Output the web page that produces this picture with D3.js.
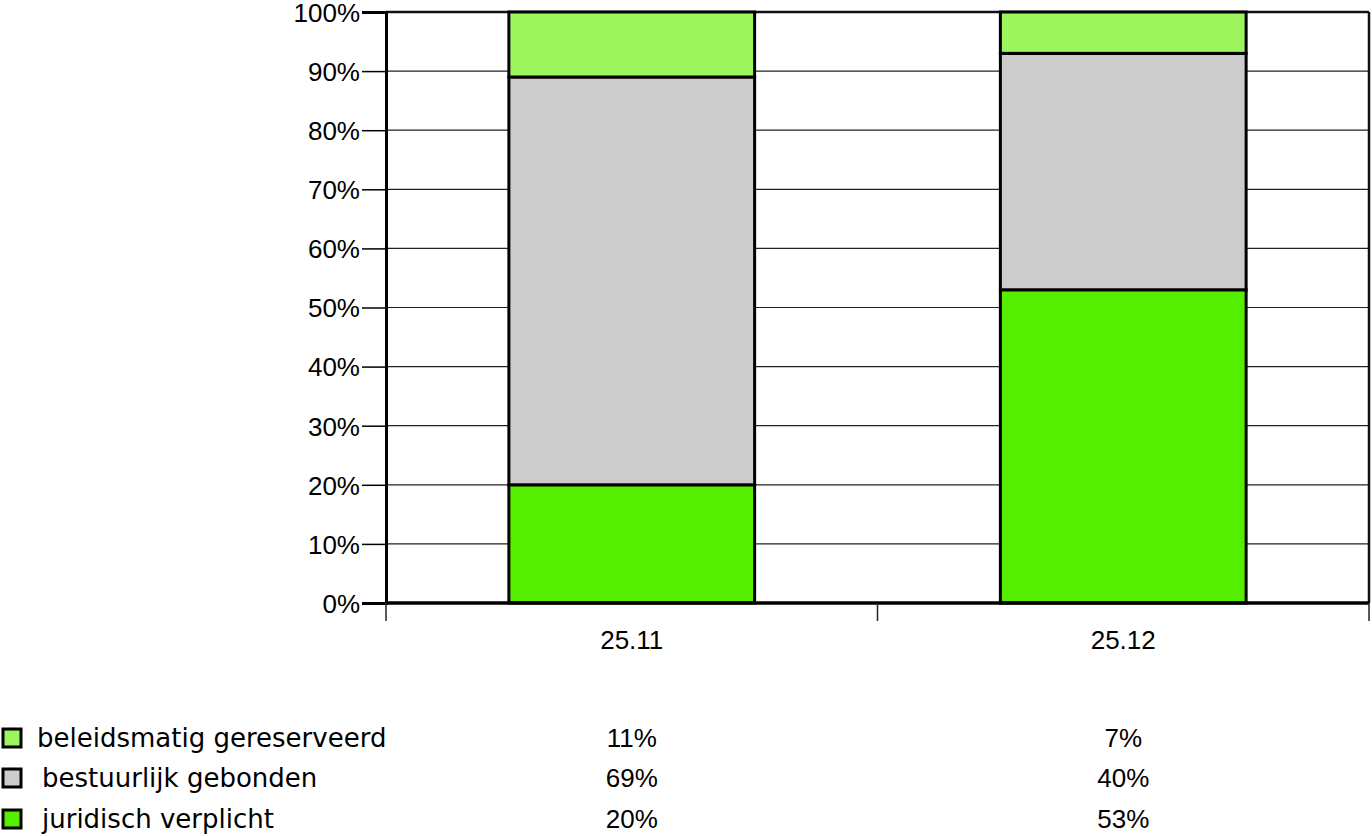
<!DOCTYPE html>
<html><head><meta charset="utf-8">
<script src="https://cdn.jsdelivr.net/npm/d3@7"></script>
<style>body{margin:0;background:#fff;}svg{display:block;font-family:"Liberation Sans",Arial,sans-serif;}</style>
</head><body><svg id="c" width="1372" height="836"></svg>
<script>
const categories = ["25.11", "25.12"];
const seriesNames = ["juridisch verplicht", "bestuurlijk gebonden", "beleidsmatig gereserveerd"];
const juridisch = [20, 53];
const bestuurlijk = [69, 40];
const beleidsmatig = [11, 7];
const yTicks = [0,10,20,30,40,50,60,70,80,90,100];
const colors = ["#55ee00", "#cccccc", "#9cf55c"];

const svg = d3.select("#c");
const NUMFONT = "Liberation Sans, Arial, sans-serif";
const TXTFONT = "DejaVu Sans, sans-serif";
const FS = 26;
const L = 386, R = 1369, T = 12, B = 603;
const x = d3.scaleBand().domain(categories).range([L, R]).paddingInner(0.5).paddingOuter(0.25);
const y = d3.scaleLinear().domain([0, 100]).range([B, T]);

const rows = categories.map((c, i) => ({cat: c, v: [juridisch[i], bestuurlijk[i], beleidsmatig[i]]}));
const stack = d3.stack().keys([0,1,2]).value((d, k) => d.v[k]);
const stacked = stack(rows);

// gridlines
svg.append("g").selectAll("line").data(yTicks.filter(t => t > 0 && t < 100)).join("line")
  .attr("x1", L).attr("x2", R).attr("y1", d => y(d)).attr("y2", d => y(d))
  .attr("stroke", "#222").attr("stroke-width", 1.2);

// top and right border
svg.append("line").attr("x1", L).attr("x2", R).attr("y1", T).attr("y2", T).attr("stroke", "#111").attr("stroke-width", 2.5);
svg.append("line").attr("x1", R).attr("x2", R).attr("y1", T).attr("y2", B).attr("stroke", "#111").attr("stroke-width", 2.5);

// bars
stacked.forEach((s, k) => {
  svg.append("g").selectAll("rect").data(s).join("rect")
    .attr("x", d => x(d.data.cat)).attr("width", x.bandwidth())
    .attr("y", d => y(d[1])).attr("height", d => y(d[0]) - y(d[1]))
    .attr("fill", colors[k]).attr("stroke", "#000").attr("stroke-width", 3);
});

// y axis
const yAxis = d3.axisLeft(y).tickValues(yTicks).tickFormat(d => d + "%").tickSize(24).tickPadding(2);
const ga = svg.append("g").attr("transform", `translate(${L},0)`).call(yAxis);
ga.select(".domain").attr("stroke", "#000").attr("stroke-width", 3);
ga.selectAll(".tick line").attr("stroke", "#000").attr("stroke-width", 1.5);
ga.selectAll("text").attr("font-size", FS).attr("fill", "#000").attr("font-family", NUMFONT).attr("dy", "0.36em");

// x axis baseline
svg.append("line").attr("x1", L).attr("x2", R).attr("y1", B).attr("y2", B).attr("stroke", "#000").attr("stroke-width", 3.5);
// category separators
const sepX = [L, (L + R) / 2, R];
svg.append("g").selectAll("line").data(sepX).join("line")
  .attr("x1", d => d).attr("x2", d => d).attr("y1", B).attr("y2", B + 18)
  .attr("stroke", "#222").attr("stroke-width", 1.5);
svg.append("g").selectAll("text").data(categories).join("text")
  .attr("x", d => x(d) + x.bandwidth() / 2).attr("y", 649)
  .attr("text-anchor", "middle").attr("font-size", FS).attr("font-family", NUMFONT).attr("fill", "#000").text(d => d);

// legend table
const legendRows = [
  {name: seriesNames[2], vals: beleidsmatig, color: colors[2], y: 747, tx: 37},
  {name: seriesNames[1], vals: bestuurlijk, color: colors[1], y: 787, tx: 42},
  {name: seriesNames[0], vals: juridisch, color: colors[0], y: 828, tx: 42}
];
const lg = svg.append("g").selectAll("g").data(legendRows).join("g");
lg.append("rect").attr("x", 3).attr("y", d => d.y - 18).attr("width", 18).attr("height", 18)
  .attr("fill", d => d.color).attr("stroke", "#000").attr("stroke-width", 3);
lg.append("text").attr("x", d => d.tx).attr("y", d => d.y).attr("font-size", FS).attr("font-family", TXTFONT).attr("fill", "#000").text(d => d.name);
lg.each(function(d) {
  d3.select(this).selectAll("text.v").data(d.vals).join("text").attr("class", "v")
    .attr("x", (v, i) => x(categories[i]) + x.bandwidth() / 2).attr("y", d.y)
    .attr("text-anchor", "middle").attr("font-size", FS).attr("font-family", NUMFONT).attr("fill", "#000").text(v => v + "%");
});
</script></body></html>
